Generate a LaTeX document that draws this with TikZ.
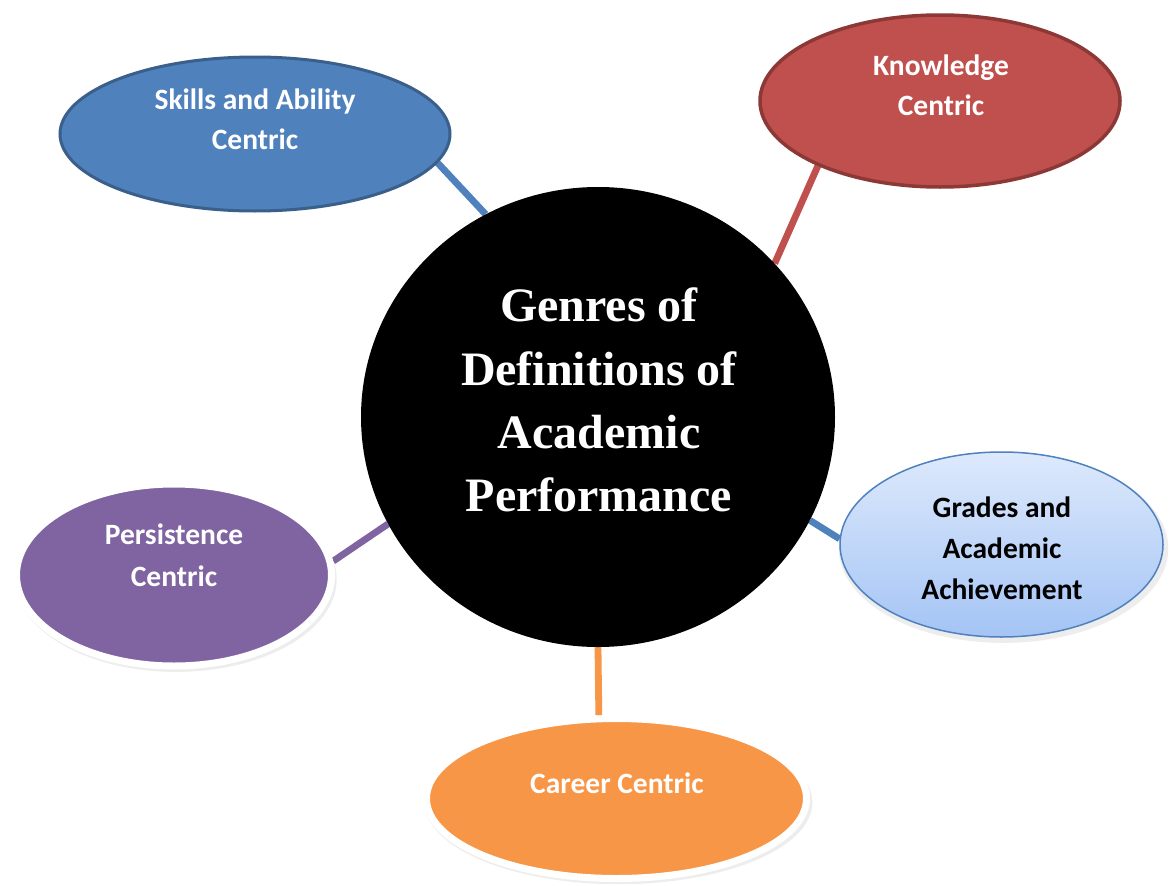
\documentclass[tikz,border=0pt]{standalone}
\usepackage{fontspec}
\setmainfont{Carlito}
\newfontfamily\serifbold{Liberation Serif}
\usetikzlibrary{shapes.geometric,shadows}

\definecolor{skillblue}{HTML}{4F81BD}
\definecolor{skilledge}{HTML}{3A5F8B}
\definecolor{knowred}{HTML}{C0504D}
\definecolor{knowedge}{HTML}{8C3836}
\definecolor{gradetop}{HTML}{DDE9FC}
\definecolor{gradebot}{HTML}{A4C4F5}
\definecolor{persviolet}{HTML}{8064A2}
\definecolor{careerorange}{HTML}{F79646}

\pgfdeclarelayer{paper}
\pgfdeclarelayer{links}
\pgfsetlayers{paper,links,main}

\begin{document}
\begin{tikzpicture}[x=1pt,y=-1pt,
  blob/.style={ellipse, inner sep=0pt},
  soft/.style={drop shadow={shadow xshift=2pt, shadow yshift=-4pt, opacity=0.14, shadow scale=1.02}},
  conn/.style={line width=6.8pt},
  lbl/.style={font=\fontsize{29.5}{40}\selectfont\bfseries, align=center, text=white, inner sep=0pt},
]
\begin{pgfonlayer}{paper}
  \fill[white] (0,0) rectangle (1173,886);
\end{pgfonlayer}
\useasboundingbox (0,0) rectangle (1173,886);

% central hub
\node[blob, fill=black, minimum width=474pt, minimum height=460pt] (core) at (598,417) {};

% surrounding genres
\node[blob, fill=skillblue, draw=skilledge, line width=3pt,
      minimum width=390pt, minimum height=154pt] (skills) at (255,134) {};
\node[blob, fill=knowred, draw=knowedge, line width=3.5pt,
      minimum width=360pt, minimum height=172pt] (knowledge) at (940,101) {};
\node[blob, soft, top color=gradetop, bottom color=gradebot, draw=skillblue, line width=1.5pt,
      minimum width=323pt, minimum height=185pt] (grades) at (1001.5,544.5) {};
\node[blob, soft, fill=persviolet, draw=white, line width=7pt,
      minimum width=315pt, minimum height=182pt] (persistence) at (174,575) {};
\node[blob, soft, fill=careerorange, draw=white, line width=7pt,
      minimum width=380pt, minimum height=160pt] (career) at (616.5,798.5) {};

% spokes behind the shapes
\begin{pgfonlayer}{links}
  \draw[conn, skillblue] (skills.-9) -- (core.119);
  \draw[conn, knowred] (knowledge.208) -- (core.41);
  \draw[conn, skillblue] (grades.178) -- (core.-26);
  \draw[conn, persviolet] (persistence.5) -- (core.207);
  \draw[conn, careerorange] (career.102) -- (core.-90.75);
\end{pgfonlayer}

% labels
\node[text=white, align=center, inner sep=0pt,
      font=\serifbold\bfseries\fontsize{48}{63.3}\selectfont] (coreText) at (599,400)
  {Genres of\\Definitions of\\Academic\\Performance};
\node[lbl] (skillsText) at (255,119) {Skills and Ability\\Centric};
\node[lbl] (knowledgeText) at (941,85) {Knowledge\\Centric};
\node[lbl, text=black, font=\fontsize{29.5}{41}\selectfont\bfseries] (gradesText) at (1002,548) {Grades and\\Academic\\Achievement};
\node[lbl, font=\fontsize{29.5}{42}\selectfont\bfseries] (persistenceText) at (174,555.5) {Persistence\\Centric};
\node[lbl] (careerText) at (617,783.5) {Career Centric};
\end{tikzpicture}
\end{document}
